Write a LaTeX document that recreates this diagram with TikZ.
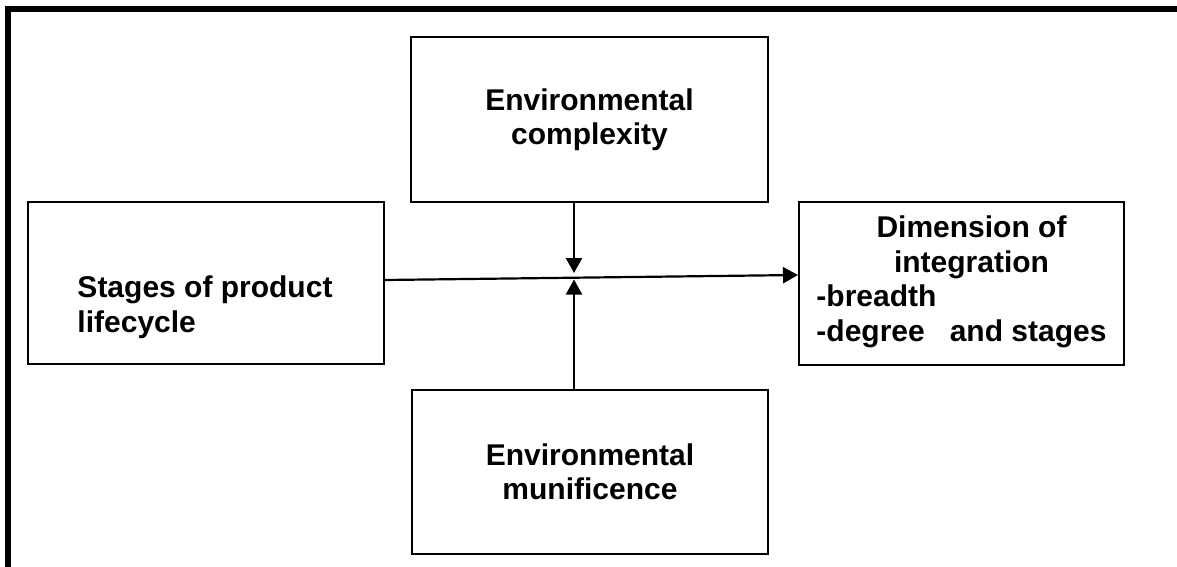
\documentclass[tikz,border=0pt]{standalone}
\usepackage{fontspec}
\setmainfont{Liberation Sans}
\usetikzlibrary{arrows.meta}
\begin{document}
\begin{tikzpicture}[x=1pt,y=-1pt,
  box/.style={draw, line width=2pt, rectangle, inner sep=0pt, anchor=north west},
  lbl/.style={font=\fontsize{30}{34.5}\selectfont\bfseries, inner sep=0pt},
  link/.style={line width=2.2pt, -{Triangle[length=15pt,width=16pt]}}]
\useasboundingbox (0,0) rectangle (1177,567);
% outer frame (top and left edges only)
\draw[line width=6pt] (8,567) -- (8,9) -- (1177,9);
% boxes
\node[box, minimum width=357pt, minimum height=165pt] (top) at (410,36) {};
\node[box, minimum width=356pt, minimum height=162pt] (left) at (27,201) {};
\node[box, minimum width=325pt, minimum height=163pt] (right) at (798,201) {};
\node[box, minimum width=356pt, minimum height=164pt] (bottom) at (411,389) {};
% labels
\node[lbl, align=center] (toptext) at (top.center) {Environmental\\complexity};
\node[lbl, align=left] (lefttext) at (205,307) {Stages of product\\lifecycle};
\node[lbl] (righttext) at ([yshift=1pt]right.center) {\begin{tabular}{@{}l@{}}
  \multicolumn{1}{@{}c@{}}{\hspace*{20pt}Dimension of}\\
  \multicolumn{1}{@{}c@{}}{\hspace*{20pt}integration}\\
  -breadth\\
  -degree\ \ \ and stages
\end{tabular}};
\node[lbl, align=center] (bottomtext) at (bottom.center) {Environmental\\munificence};
% connectors
\coordinate (mtop) at (574,273);
\coordinate (mbot) at (574,279.5);
\draw[link] ([yshift=3pt]left.east) -- ([yshift=8.5pt]right.west);
\draw[link] (top.south -| mtop) -- (mtop);
\draw[link] (bottom.north -| mbot) -- (mbot);
\end{tikzpicture}
\end{document}
